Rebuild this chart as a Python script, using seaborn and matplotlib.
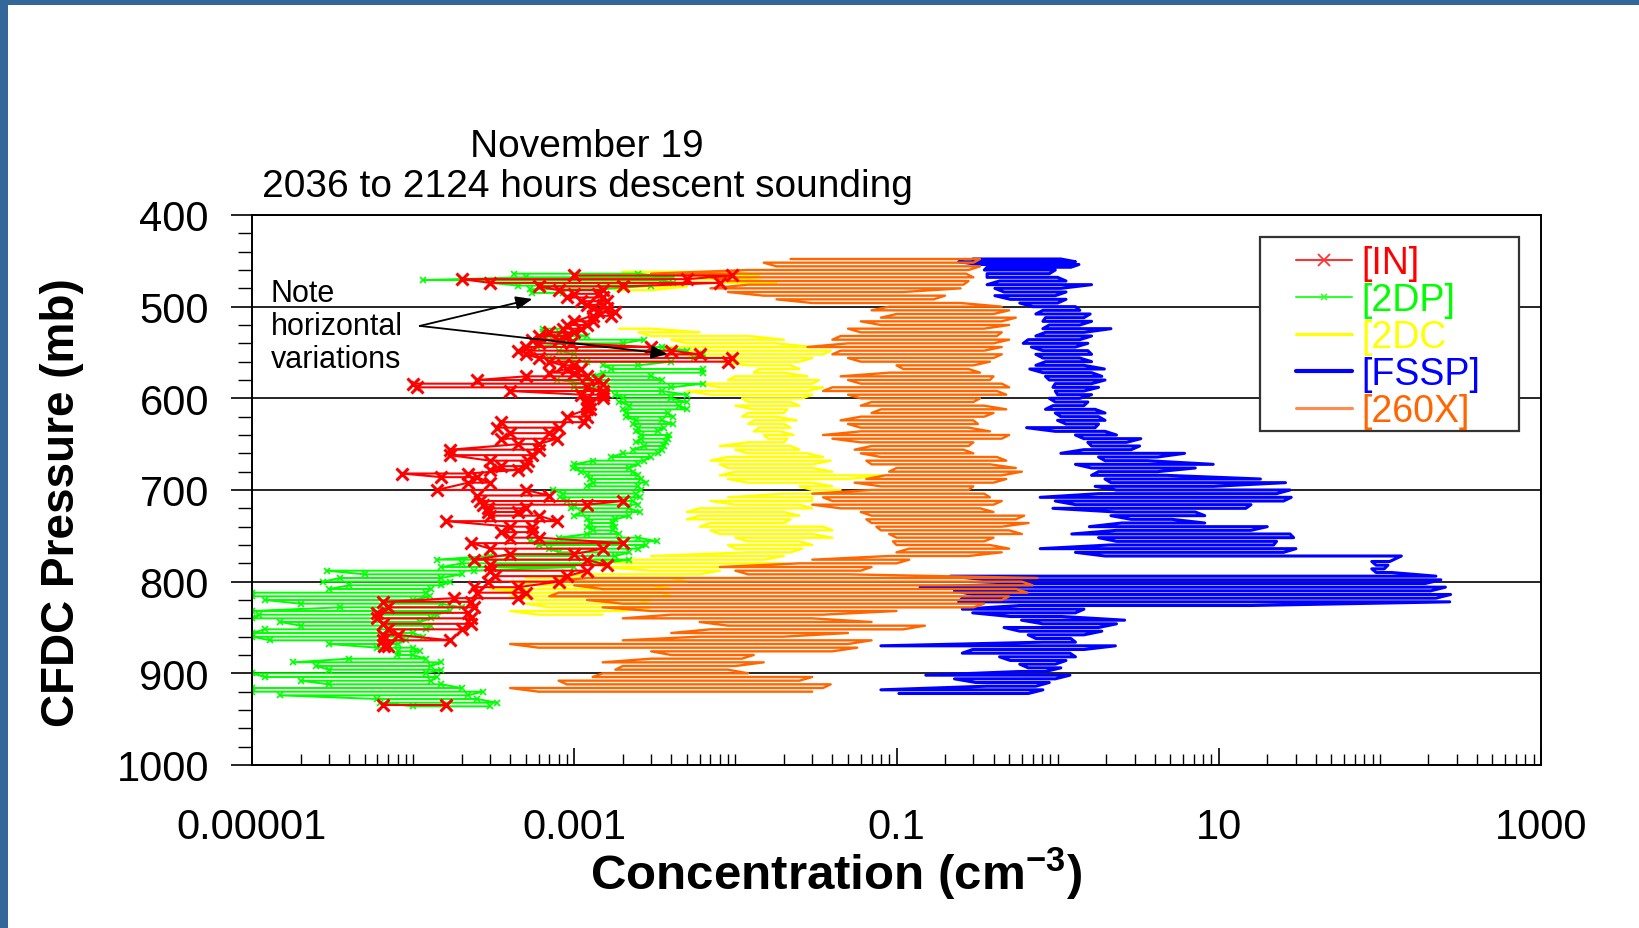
import matplotlib
matplotlib.use("Agg")
import matplotlib.pyplot as plt
import pandas as pd
import seaborn as sns
from matplotlib.lines import Line2D
from matplotlib.patches import Rectangle
from matplotlib.ticker import FixedLocator, NullFormatter

# ---------------- data ----------------
# each series: pressure levels (mb), left and right end of the horizontal excursion (cm^-3)
FSSP_P = [448, 451, 454, 457, 460, 464, 468, 472, 476, 480,
          484, 488, 492, 496, 500, 504, 508, 512, 516, 520,
          524, 528, 532, 536, 540, 544, 548, 552, 556, 560,
          564, 568, 572, 576, 580, 584, 588, 592, 596, 600,
          604, 608, 612, 616, 620, 624, 628, 632, 636, 640,
          644, 648, 652, 656, 660, 664, 668, 672, 676, 680,
          684, 688, 692, 696, 700, 704, 708, 712, 716, 720,
          724, 728, 732, 736, 740, 744, 748, 752, 756, 760,
          764, 768, 772, 778, 782, 786, 790, 794, 798, 802,
          806, 810, 814, 818, 822, 826, 830, 834, 838, 842,
          846, 850, 854, 858, 862, 866, 870, 874, 878, 882,
          886, 890, 894, 898, 902, 906, 910, 914, 918, 922]
FSSP_LO = [0.297, 0.243, 0.324, 0.365, 0.351, 0.365, 0.365, 0.436, 0.365, 0.408,
           0.465, 0.408, 0.509, 0.582, 0.702, 0.810, 0.733, 0.841, 0.810, 0.888,
           0.810, 0.841, 0.733, 0.657, 0.612, 0.687, 0.810, 0.733, 0.810, 0.841,
           0.733, 0.672, 0.810, 0.841, 0.888, 0.967, 0.935, 0.967, 0.999, 0.888,
           0.967, 0.935, 0.841, 0.967, 1.047, 0.999, 1.127, 0.642, 0.967, 1.290,
           1.456, 1.540, 1.624, 1.456, 1.047, 1.795, 1.968, 1.290, 1.624, 1.795,
           1.624, 1.968, 2.142, 1.709, 2.319, 1.795, 0.779, 0.967, 1.290, 0.935,
           2.319, 2.142, 2.859, 2.497, 1.574, 2.319, 1.224, 1.795, 2.319, 2.108,
           0.779, 1.290, 1.968, 89.1, 94.8, 89.1, 94.8, 0.216, 0.365, 0.657,
           0.140, 0.229, 0.297, 0.256, 0.243, 0.582, 0.256, 0.297, 0.509, 0.597,
           0.810, 0.465, 0.582, 0.657, 0.733, 0.810, 0.080, 0.297, 0.256, 0.436,
           0.509, 0.582, 0.657, 0.582, 0.152, 0.229, 0.310, 0.365, 0.080, 0.1035]
FSSP_HI = [1.047, 1.290, 1.356, 1.208, 0.967, 0.888, 0.999, 1.127, 1.624, 1.047,
           1.127, 0.967, 1.127, 0.999, 1.290, 1.373, 1.591, 1.456, 1.624, 1.373,
           2.142, 1.456, 1.624, 1.373, 1.540, 1.290, 1.540, 1.624, 1.373, 1.624,
           1.456, 1.950, 1.624, 1.881, 1.968, 1.624, 1.795, 1.456, 1.624, 1.373,
           1.540, 1.456, 1.709, 1.968, 1.795, 1.968, 1.795, 1.709, 1.968, 2.319,
           3.282, 2.677, 3.226, 2.859, 6.134, 4.169, 3.600, 9.238, 7.150, 4.169,
           4.748, 18.14, 25.96, 9.238, 27.67, 22.84, 28.16, 25.24, 15.85, 14.71,
           7.150, 8.186, 5.139, 8.186, 20.00, 15.85, 27.67, 29.14, 22.84, 21.89,
           30.12, 25.24, 135.9, 115.1, 112.2, 106.4, 118.0, 222.8, 238.9, 191.2,
           255.1, 206.9, 274.7, 222.8, 271.4, 15.85, 1.456, 1.290, 1.063, 2.605,
           2.319, 1.795, 1.881, 1.456, 1.208, 1.290, 2.283, 1.456, 1.192, 1.290,
           1.127, 0.967, 1.047, 0.841, 1.192, 0.967, 0.888, 0.733, 0.810, 0.657]

X260_P = [448, 452, 456, 460, 464, 468, 472, 476, 480, 484,
          488, 492, 496, 500, 504, 508, 512, 516, 520, 524,
          528, 532, 536, 540, 544, 548, 552, 556, 560, 564,
          568, 572, 576, 580, 584, 588, 592, 596, 600, 604,
          608, 612, 616, 620, 624, 628, 632, 636, 640, 644,
          648, 652, 656, 660, 664, 668, 672, 676, 680, 684,
          688, 692, 696, 700, 704, 708, 712, 716, 720, 724,
          728, 732, 736, 740, 744, 748, 752, 756, 760, 764,
          768, 772, 776, 780, 784, 788, 792, 796, 800, 804,
          808, 812, 816, 820, 824, 828, 832, 836, 840, 844,
          848, 852, 856, 860, 864, 868, 872, 876, 880, 884,
          888, 892, 896, 900, 904, 908, 912, 916, 920]
X260_LO = [0.022, 0.015, 0.018, 0.012, 0.003, 0.007, 0.009, 0.012, 0.007, 0.009,
           0.015, 0.018, 0.030, 0.090, 0.070, 0.100, 0.080, 0.060, 0.080, 0.050,
           0.060, 0.045, 0.040, 0.050, 0.028, 0.045, 0.040, 0.050, 0.060, 0.100,
           0.110, 0.090, 0.045, 0.050, 0.060, 0.040, 0.035, 0.050, 0.060, 0.070,
           0.060, 0.080, 0.070, 0.060, 0.045, 0.050, 0.060, 0.060, 0.035, 0.040,
           0.060, 0.070, 0.055, 0.060, 0.080, 0.065, 0.070, 0.100, 0.090, 0.085,
           0.065, 0.055, 0.080, 0.070, 0.030, 0.035, 0.040, 0.030, 0.045, 0.060,
           0.070, 0.065, 0.070, 0.075, 0.080, 0.090, 0.100, 0.095, 0.100, 0.120,
           0.100, 0.090, 0.030, 0.025, 0.008, 0.010, 0.012, 0.0012, 0.0007, 0.0010,
           0.0015, 0.0008, 0.0007, 0.0012, 0.0020, 0.0015, 0.0030, 0.0040, 0.0020, 0.0060,
           0.0090, 0.0070, 0.0040, 0.0060, 0.0020, 0.0004, 0.0006, 0.0030, 0.0040, 0.0030,
           0.0015, 0.0020, 0.0018, 0.0015, 0.0013, 0.0008, 0.0009, 0.0004, 0.0006]
X260_HI = [0.33, 0.30, 0.33, 0.28, 0.27, 0.30, 0.28, 0.26, 0.25, 0.11,
           0.20, 0.17, 0.25, 0.45, 0.50, 0.40, 0.55, 0.45, 0.50, 0.35,
           0.45, 0.42, 0.50, 0.40, 0.45, 0.35, 0.45, 0.40, 0.38, 0.30,
           0.28, 0.33, 0.40, 0.38, 0.45, 0.50, 0.42, 0.48, 0.33, 0.30,
           0.35, 0.48, 0.40, 0.35, 0.30, 0.32, 0.28, 0.38, 0.50, 0.45,
           0.30, 0.28, 0.26, 0.30, 0.42, 0.48, 0.38, 0.55, 0.60, 0.45,
           0.48, 0.40, 0.30, 0.28, 0.35, 0.38, 0.45, 0.40, 0.33, 0.40,
           0.62, 0.55, 0.66, 0.45, 0.50, 0.60, 0.40, 0.35, 0.38, 0.50,
           0.45, 0.28, 0.12, 0.10, 0.07, 0.06, 0.05, 0.75, 0.60, 0.70,
           0.55, 0.65, 0.50, 0.45, 0.35, 0.30, 0.10, 0.035, 0.030, 0.070,
           0.15, 0.11, 0.05, 0.02, 0.07, 0.05, 0.057, 0.04, 0.013, 0.011,
           0.015, 0.010, 0.009, 0.012, 0.030, 0.025, 0.039, 0.035, 0.030]

DC2_P = [462, 466, 470, 474, 478, 482, 524, 528, 532, 536,
         540, 544, 548, 552, 556, 560, 564, 568, 572, 576,
         580, 584, 588, 592, 596, 600, 604, 608, 612, 616,
         620, 624, 628, 632, 636, 640, 644, 648, 652, 656,
         660, 664, 668, 672, 676, 680, 684, 688, 692, 696,
         700, 704, 708, 712, 716, 720, 724, 728, 732, 736,
         740, 744, 748, 752, 756, 760, 764, 768, 772, 776,
         780, 784, 788, 792, 796, 800, 804, 808, 812, 816,
         820, 824, 828, 832, 836]
DC2_LO = [0.0020, 0.0012, 0.0010, 0.0015, 0.0020, 0.0018, 0.0019, 0.0025, 0.0030, 0.0040,
          0.0050, 0.0035, 0.0040, 0.0060, 0.0050, 0.0080, 0.0120, 0.0140, 0.0130, 0.0100,
          0.0090, 0.0060, 0.0080, 0.0050, 0.0070, 0.0110, 0.0120, 0.0100, 0.0130, 0.0120,
          0.0110, 0.0130, 0.0120, 0.0140, 0.0130, 0.0150, 0.0160, 0.0120, 0.0080, 0.0100,
          0.0120, 0.0090, 0.0070, 0.0080, 0.0090, 0.0100, 0.0080, 0.0090, 0.0120, 0.0250,
          0.0300, 0.0200, 0.0090, 0.0070, 0.0100, 0.0060, 0.0050, 0.0060, 0.0050, 0.0070,
          0.0060, 0.0070, 0.0080, 0.0100, 0.0120, 0.0090, 0.0100, 0.0120, 0.0030, 0.0011,
          0.0020, 0.0015, 0.0030, 0.0012, 0.0005, 0.0004, 0.0006, 0.0003, 0.0005, 0.0004,
          0.0006, 0.0005, 0.0007, 0.0004, 0.0006]
DC2_HI = [0.010, 0.014, 0.012, 0.018, 0.005, 0.003, 0.003, 0.006, 0.012, 0.020,
          0.018, 0.030, 0.039, 0.035, 0.030, 0.025, 0.022, 0.025, 0.020, 0.028,
          0.033, 0.030, 0.035, 0.028, 0.030, 0.026, 0.022, 0.025, 0.021, 0.020,
          0.018, 0.024, 0.020, 0.022, 0.019, 0.023, 0.021, 0.020, 0.022, 0.025,
          0.028, 0.035, 0.039, 0.030, 0.030, 0.040, 0.082, 0.050, 0.030, 0.040,
          0.045, 0.040, 0.030, 0.030, 0.025, 0.030, 0.020, 0.025, 0.022, 0.020,
          0.035, 0.040, 0.030, 0.040, 0.025, 0.030, 0.026, 0.022, 0.020, 0.015,
          0.020, 0.010, 0.008, 0.006, 0.004, 0.005, 0.003, 0.004, 0.0035, 0.004,
          0.003, 0.0025, 0.003, 0.002, 0.0015]

DP2_P = [464, 468, 471, 474, 477, 481, 485, 524, 528, 532,
         536, 540, 544, 548, 552, 556, 560, 564, 568, 572,
         576, 580, 584, 588, 592, 596, 600, 604, 608, 612,
         616, 620, 624, 628, 632, 636, 640, 644, 648, 652,
         656, 660, 664, 668, 672, 676, 680, 684, 688, 692,
         696, 700, 704, 708, 712, 716, 720, 724, 728, 732,
         736, 740, 744, 748, 752, 756, 760, 764, 768, 772,
         776, 780, 784, 788, 792, 796, 800, 804, 808, 812,
         816, 820, 824, 828, 832, 836, 840, 844, 848, 852,
         856, 860, 864, 868, 872, 876, 880, 884, 888, 892,
         896, 900, 904, 908, 912, 916, 920, 924, 928, 932,
         936]
DP2_LO = [4.2e-4, 5.0e-4, 1.15e-4, 3.0e-4, 4.5e-4, 5.3e-4, 5.5e-4, 6.4e-4, 6.4e-4, 7.0e-4,
          8.5e-4, 9.0e-4, 5.9e-4, 8.0e-4, 1.0e-3, 7.0e-4, 1.2e-3, 1.5e-3, 1.7e-3, 1.5e-3,
          1.3e-3, 7.8e-4, 1.2e-3, 1.0e-3, 1.5e-3, 1.8e-3, 2.0e-3, 1.9e-3, 2.2e-3, 2.0e-3,
          2.1e-3, 2.1e-3, 2.4e-3, 2.3e-3, 2.5e-3, 2.4e-3, 2.6e-3, 2.6e-3, 2.4e-3, 2.7e-3,
          2.3e-3, 2.0e-3, 1.7e-3, 1.3e-3, 1.0e-3, 9.8e-4, 1.1e-3, 1.2e-3, 1.25e-3, 1.3e-3,
          1.2e-3, 7.4e-4, 8.5e-4, 8.2e-4, 9.0e-4, 1.0e-3, 9.5e-4, 1.1e-3, 1.0e-3, 1.2e-3,
          1.25e-3, 1.2e-3, 1.3e-3, 1.2e-3, 8.0e-4, 5.3e-4, 6.0e-4, 7.0e-4, 8.0e-4, 3.0e-4,
          1.4e-4, 2.0e-4, 1.5e-4, 2.9e-5, 5.0e-5, 3.5e-5, 2.76e-5, 4.0e-5, 3.0e-5, 1.0e-5,
          1.0e-5, 1.2e-5, 2.0e-5, 3.5e-5, 1.0e-5, 1.1e-5, 1.0e-5, 1.5e-5, 2.0e-5, 1.2e-5,
          1.0e-5, 1.0e-5, 1.3e-5, 3.0e-5, 6.0e-5, 8.0e-5, 7.9e-5, 4.0e-5, 1.8e-5, 2.5e-5,
          3.0e-5, 1.0e-5, 1.2e-5, 2.0e-5, 3.0e-5, 1.0e-5, 1.0e-5, 1.5e-5, 6.0e-5, 6.2e-5,
          1.0e-4]
DP2_HI = [2.5e-3, 4.1e-3, 3.5e-3, 4.1e-3, 3.0e-3, 1.5e-3, 8.5e-4, 8.5e-4, 8.0e-4, 1.2e-3,
          2.7e-3, 2.0e-3, 3.5e-3, 5.0e-3, 6.3e-3, 5.5e-3, 4.0e-3, 2.5e-3, 6.3e-3, 6.3e-3,
          3.0e-3, 3.5e-3, 6.3e-3, 4.0e-3, 3.5e-3, 5.0e-3, 4.0e-3, 5.0e-3, 4.5e-3, 5.0e-3,
          3.8e-3, 4.1e-3, 3.5e-3, 4.1e-3, 3.6e-3, 3.3e-3, 3.9e-3, 3.8e-3, 3.7e-3, 3.6e-3,
          3.5e-3, 3.3e-3, 3.0e-3, 2.7e-3, 2.5e-3, 2.2e-3, 2.3e-3, 2.5e-3, 2.6e-3, 2.8e-3,
          2.5e-3, 2.6e-3, 2.4e-3, 2.56e-3, 2.3e-3, 2.5e-3, 2.2e-3, 2.56e-3, 2.2e-3, 1.8e-3,
          1.74e-3, 1.8e-3, 1.74e-3, 1.9e-3, 2.5e-3, 3.27e-3, 2.8e-3, 2.5e-3, 2.2e-3, 1.8e-3,
          2.2e-3, 1.5e-3, 1.0e-3, 2.4e-4, 2.0e-4, 1.5e-4, 1.7e-4, 1.5e-4, 1.3e-4, 1.2e-4,
          1.27e-4, 1.0e-4, 1.5e-4, 2.0e-4, 1.7e-4, 1.4e-4, 1.3e-4, 1.1e-4, 1.3e-4, 1.2e-4,
          1.0e-4, 1.15e-4, 9.0e-5, 8.0e-5, 1.0e-4, 1.1e-4, 1.0e-4, 1.2e-4, 1.5e-4, 1.3e-4,
          1.5e-4, 1.2e-4, 1.4e-4, 1.3e-4, 1.5e-4, 2.0e-4, 2.7e-4, 2.2e-4, 2.5e-4, 3.3e-4,
          3.0e-4]

IN_P = [466, 470, 474, 478, 482, 486, 490, 494, 498, 502,
        506, 510, 516, 520, 524, 528, 532, 536, 540, 544,
        548, 552, 556, 560, 564, 568, 572, 576, 580, 584,
        588, 592, 596, 600, 606, 612, 620, 626, 632, 638,
        644, 650, 656, 662, 668, 674, 678, 682, 686, 692,
        700, 706, 712, 716, 720, 724, 728, 734, 740, 746,
        752, 758, 764, 770, 776, 782, 788, 794, 800, 806,
        812, 818, 822, 828, 834, 840, 846, 852, 858, 864,
        870, 934]
IN_LO = [1.0e-3, 2.0e-4, 3.0e-4, 6.0e-4, 8.0e-4, 1.0e-3, 9.0e-4, 1.1e-3, 1.2e-3, 1.3e-3,
         1.4e-3, 1.3e-3, 1.0e-3, 9.0e-4, 8.5e-4, 7.0e-4, 6.0e-4, 5.5e-4, 6.0e-4, 5.0e-4,
         4.5e-4, 5.0e-4, 6.0e-4, 7.0e-4, 8.5e-4, 9.0e-4, 7.0e-4, 5.0e-4, 2.5e-4, 1.0e-4,
         1.05e-4, 4.0e-4, 1.1e-3, 1.2e-3, 1.2e-3, 1.2e-3, 9.0e-4, 3.5e-4, 3.3e-4, 4.0e-4,
         3.5e-4, 4.5e-4, 1.7e-4, 1.7e-4, 3.0e-4, 3.5e-4, 3.0e-4, 8.5e-5, 1.5e-4, 2.2e-4,
         1.4e-4, 2.5e-4, 2.6e-4, 2.7e-4, 2.9e-4, 2.9e-4, 3.0e-4, 1.6e-4, 4.0e-4, 3.5e-4,
         4.0e-4, 2.3e-4, 3.0e-4, 4.0e-4, 2.4e-4, 3.0e-4, 3.0e-4, 3.2e-4, 2.9e-4, 2.4e-4,
         2.5e-4, 1.8e-4, 6.5e-5, 7.0e-5, 6.0e-5, 6.0e-5, 6.5e-5, 7.0e-5, 6.5e-5, 6.5e-5,
         6.6e-5, 6.5e-5]
IN_HI = [9.5e-3, 5.0e-3, 8.0e-3, 2.0e-3, 1.5e-3, 1.4e-3, 1.5e-3, 1.6e-3, 1.5e-3, 1.6e-3,
         1.8e-3, 1.7e-3, 1.3e-3, 1.2e-3, 1.1e-3, 1.0e-3, 9.0e-4, 8.0e-4, 9.5e-4, 3.0e-3,
         4.0e-3, 6.0e-3, 9.5e-3, 9.0e-3, 1.0e-3, 1.1e-3, 1.0e-3, 1.2e-3, 1.4e-3, 1.5e-3,
         1.2e-3, 1.5e-3, 1.5e-3, 1.5e-3, 1.25e-3, 1.25e-3, 1.2e-3, 1.15e-3, 8.0e-4, 7.0e-4,
         7.8e-4, 6.0e-4, 6.0e-4, 5.5e-4, 5.2e-4, 5.0e-4, 4.5e-4, 2.2e-4, 2.5e-4, 3.0e-4,
         5.0e-4, 7.0e-4, 2.0e-3, 1.2e-3, 5.0e-4, 4.5e-4, 6.0e-4, 7.8e-4, 5.5e-4, 5.5e-4,
         6.0e-4, 2.0e-3, 1.5e-3, 1.0e-3, 1.2e-3, 1.6e-3, 1.2e-3, 9.0e-4, 8.0e-4, 4.5e-4,
         5.0e-4, 4.5e-4, 2.3e-4, 2.4e-4, 2.2e-4, 2.3e-4, 2.3e-4, 2.0e-4, 8.0e-5, 1.7e-4,
         7.0e-5, 1.6e-4]

# pressure levels at which a new, unconnected piece of the trace starts
DP2_BREAKS = [524]
DC2_BREAKS = [524]
IN_BREAKS = [934]

SERIES_LABELS = ["[IN]", "[2DP]", "[2DC", "[FSSP]", "[260X]"]
SERIES_COLORS = ["#ff0000", "#00ff00", "#ffff00", "#0000ff", "#ff6600"]

X_MAJOR = [1e-5, 1e-3, 1e-1, 1e1, 1e3]
X_MAJOR_LABELS = ["0.00001", "0.001", "0.1", "10", "1000"]
Y_MAJOR = [400, 500, 600, 700, 800, 900, 1000]


def trace(p, lo, hi, breaks=()):
    """Build the back-and-forth trace table (one horizontal sweep per level)."""
    rows = []
    seg = 0
    for i, (pp, a, b) in enumerate(zip(p, lo, hi)):
        if pp in breaks:
            seg += 1
        first, second = (a, b) if i % 2 == 0 else (b, a)
        rows.append((first, pp, seg))
        rows.append((second, pp, seg))
    return pd.DataFrame(rows, columns=["conc", "p", "seg"])


sns.set_theme(style="white", rc={
    "axes.edgecolor": "black", "text.color": "black",
    "axes.labelcolor": "black", "xtick.color": "black", "ytick.color": "black",
})
plt.rcParams["font.family"] = ["Liberation Sans", "DejaVu Sans"]
plt.rcParams["mathtext.fontset"] = "custom"
plt.rcParams["mathtext.rm"] = "Liberation Sans"
plt.rcParams["mathtext.bf"] = "Liberation Sans:bold"

W, H = 1639, 929
fig = plt.figure(figsize=(W / 100, H / 100), dpi=100)
fig.patch.set_facecolor("white")
ax = fig.add_axes([252 / W, 1 - 766 / H, 1289 / W, 550 / H])
ax.set_xscale("log")

common = dict(x="conc", y="p", units="seg", estimator=None, sort=False,
              ax=ax, legend=False)
sns.lineplot(data=trace(FSSP_P, FSSP_LO, FSSP_HI), color=SERIES_COLORS[3],
             linewidth=2.2, **common)
sns.lineplot(data=trace(DC2_P, DC2_LO, DC2_HI, DC2_BREAKS), color=SERIES_COLORS[2],
             linewidth=1.7, **common)
sns.lineplot(data=trace(X260_P, X260_LO, X260_HI), color=SERIES_COLORS[4],
             linewidth=1.7, **common)
sns.lineplot(data=trace(DP2_P, DP2_LO, DP2_HI, DP2_BREAKS), color=SERIES_COLORS[1],
             linewidth=1.4, marker="x", markersize=5, markeredgewidth=1.2,
             markeredgecolor=SERIES_COLORS[1], **common)
sns.lineplot(data=trace(IN_P, IN_LO, IN_HI, IN_BREAKS), color=SERIES_COLORS[0],
             linewidth=1.5, marker="x", markersize=9, markeredgewidth=2.2,
             markeredgecolor=SERIES_COLORS[0], **common)

ax.set_xlim(1e-5, 1e3)
ax.set_ylim(1000, 400)

# ticks
ax.xaxis.set_major_locator(FixedLocator(X_MAJOR))
ax.set_xticklabels(X_MAJOR_LABELS)
minor_x = [m * 10.0 ** e for e in range(-5, 3) for m in range(1, 10)
           if m * 10.0 ** e not in X_MAJOR]
ax.xaxis.set_minor_locator(FixedLocator(minor_x))
ax.xaxis.set_minor_formatter(NullFormatter())
ax.yaxis.set_major_locator(FixedLocator(Y_MAJOR))
ax.yaxis.set_minor_locator(FixedLocator(list(range(400, 1001, 20))))
ax.tick_params(axis="x", which="major", direction="in", length=12, width=1.2,
               pad=30, labelsize=30, bottom=True, top=False)
ax.tick_params(axis="x", which="minor", direction="in", length=8, width=1.0,
               bottom=True, top=False)
ax.tick_params(axis="y", which="major", direction="out", length=15, width=1.2,
               pad=16, labelsize=30, left=True, right=False)
ax.tick_params(axis="y", which="minor", direction="out", length=10, width=1.0,
               left=True, right=False)

ax.grid(False)
ax.yaxis.grid(True, which="major", color="black", linewidth=1.2)
ax.set_axisbelow(True)
for s in ax.spines.values():
    s.set_visible(True)
    s.set_color("black")
    s.set_linewidth(1.4)

ax.set_xlabel(r"Concentration (cm$^{\mathbf{-3}}$)", fontsize=35.5, fontweight="bold")
ax.xaxis.set_label_coords(0.453, -0.197)
ax.xaxis.label.set_va("center")
ax.set_ylabel("CFDC Pressure (mb)", fontsize=33, fontweight="bold")
ax.yaxis.set_label_coords(-0.1474, 0.478)
ax.yaxis.label.set_va("center")
ax.yaxis.label.set_ha("center")

# title (two lines, centred left of the axes centre)
fig.text(587 / W, 1 - 147 / H, "November 19", ha="center", va="center", fontsize=28)
fig.text(587 / W, 1 - 187 / H, "2036 to 2124 hours descent sounding",
         ha="center", va="center", fontsize=28)

# annotation
ax.text(1.31e-5, 469, "Note\nhorizontal\nvariations", ha="left", va="top",
        fontsize=22, linespacing=1.12, zorder=6)
arrow = dict(arrowstyle="-|>,head_length=0.5,head_width=0.2", color="black",
             lw=1.3, mutation_scale=20, shrinkA=0, shrinkB=0)
ax.annotate("", xy=(5.5e-4, 491.6), xytext=(1.1e-4, 521), arrowprops=arrow, zorder=6)
ax.annotate("", xy=(3.8e-3, 551.6), xytext=(1.1e-4, 521), arrowprops=arrow, zorder=6)

# legend with its own box
box = Rectangle((1260 / W, 1 - 432 / H), 259 / W, 194 / H, transform=fig.transFigure,
                facecolor="white", edgecolor="#333333", linewidth=1.6, zorder=4,
                clip_on=False)
ax.add_patch(box)
handles = [
    Line2D([], [], color="#ff3333", lw=1.5, marker="x", markersize=8, markeredgewidth=1.3),
    Line2D([], [], color="#33ff33", lw=1.5, marker="x", markersize=5, markeredgewidth=1.2),
    Line2D([], [], color="#ffff00", lw=2.2),
    Line2D([], [], color="#0000ff", lw=3.0),
    Line2D([], [], color="#ff8c4c", lw=2.2),
]
leg = ax.legend(handles, SERIES_LABELS, loc="upper left",
                bbox_to_anchor=(1296 / W, 1 - 246 / H), bbox_transform=fig.transFigure,
                frameon=False, fontsize=27, handlelength=1.5, handletextpad=0.25,
                labelspacing=0.03, borderpad=0, borderaxespad=0)
leg.set_zorder(7)
for t, c in zip(leg.get_texts(), SERIES_COLORS):
    t.set_color(c)

# slide frame strips
fig.add_artist(Rectangle((0, 0), 8 / W, 1, transform=fig.transFigure,
                         facecolor="#336699", edgecolor="none"))
fig.add_artist(Rectangle((0, 1 - 6 / H), 1, 6 / H, transform=fig.transFigure,
                         facecolor="#336699", edgecolor="none"))

fig.savefig("out.png", dpi=100, facecolor="white")
